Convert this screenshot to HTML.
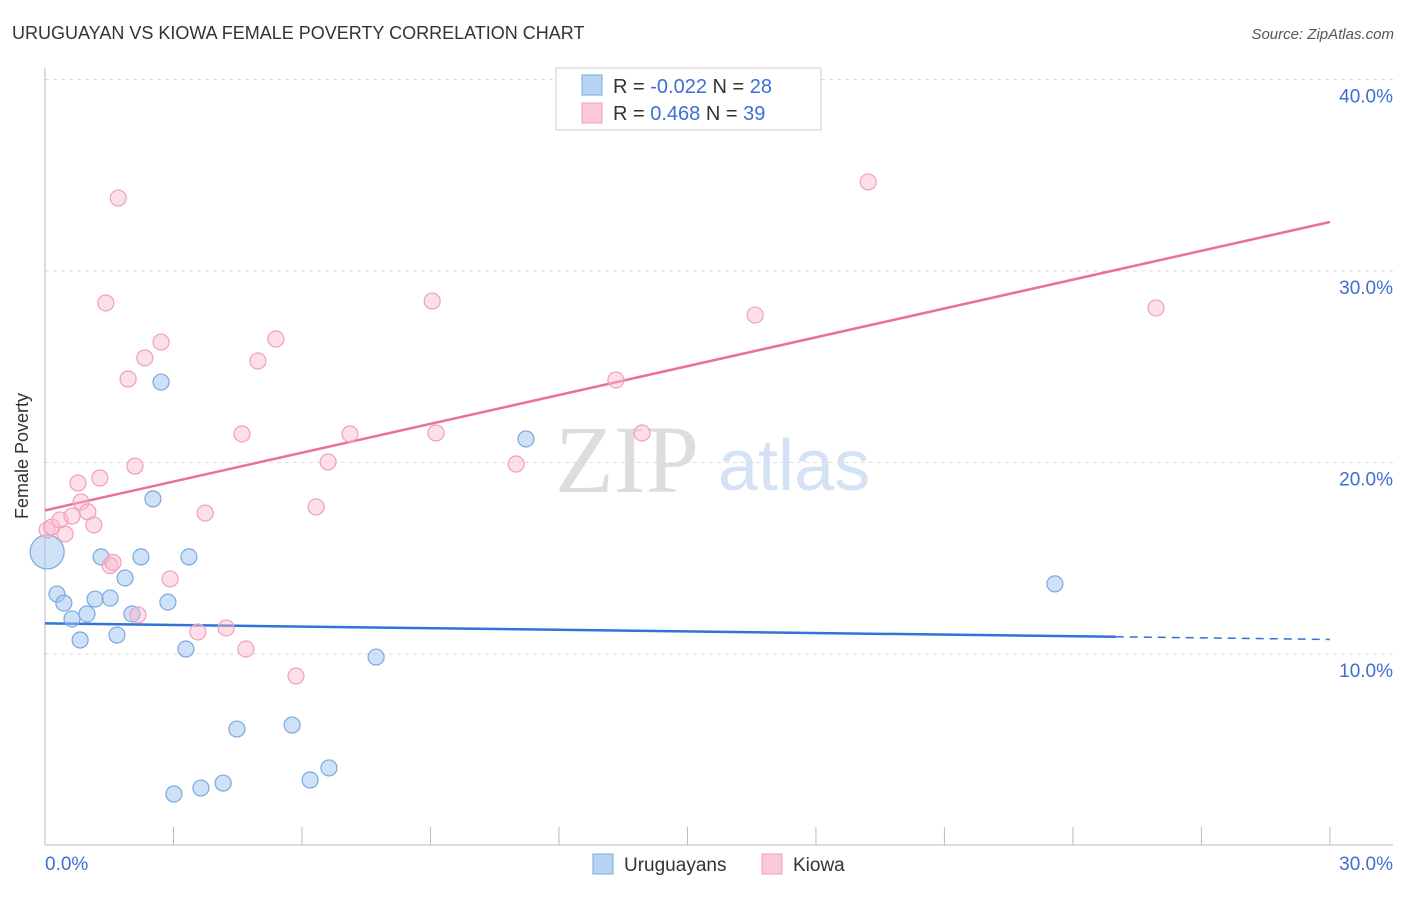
<!DOCTYPE html>
<html><head><meta charset="utf-8"><style>
body{margin:0;background:#fff;font-family:"Liberation Sans",sans-serif}
</style></head><body>
<svg id="chart" width="1406" height="892" xmlns="http://www.w3.org/2000/svg" font-family="Liberation Sans, sans-serif">
<text x="12" y="39" font-size="18" fill="#333">URUGUAYAN VS KIOWA FEMALE POVERTY CORRELATION CHART</text>
<text x="1394" y="39" font-size="15" font-style="italic" fill="#555" text-anchor="end">Source: ZipAtlas.com</text>
<text x="555" y="492" font-size="96" font-family="Liberation Serif, serif" fill="#ddd">ZIP</text>
<text x="718" y="490" font-size="72" fill="#d3e2f5">atlas</text>
<g id="grid"></g><g id="axes"></g><g id="lines"></g><g id="points"></g>
<text x="28" y="456" font-size="18" fill="#333" text-anchor="middle" transform="rotate(-90 28 456)">Female Poverty</text>
<g>
<rect x="556" y="68" width="265" height="62" fill="#fff" stroke="#ccc"/>
<rect x="582" y="75" width="20" height="20" fill="#b9d3f5" stroke="#7aa8e0"/>
<text x="613" y="93" font-size="20" fill="#333">R = <tspan fill="#3b6fd1">-0.022</tspan>   N = <tspan fill="#3b6fd1">28</tspan></text>
<rect x="582" y="103" width="20" height="20" fill="#fbc9d8" stroke="#f0a0b8"/>
<text x="613" y="120" font-size="20" fill="#333">R =  <tspan fill="#3b6fd1"> 0.468</tspan>   N = <tspan fill="#3b6fd1">39</tspan></text>
</g>
<g>
<rect x="593" y="854" width="20" height="20" fill="#b9d3f5" stroke="#7aa8e0"/>
<text x="624" y="871" font-size="19" fill="#333">Uruguayans</text>
<rect x="762" y="854" width="20" height="20" fill="#fbc9d8" stroke="#f0a0b8"/>
<text x="793" y="871" font-size="19" fill="#333">Kiowa</text>
</g>
</svg>
<script>
const blueX=[0.05,0.28,0.44,0.63,0.82,0.98,1.17,1.31,1.52,1.68,1.87,2.03,2.24,2.52,2.71,2.87,3.01,3.29,3.36,3.64,4.16,4.48,5.77,6.19,6.63,7.73,11.23,23.58];
const blueY=[15.33,13.13,12.66,11.83,10.73,12.09,12.87,15.07,12.92,10.99,13.97,12.09,15.07,18.10,24.20,12.71,2.69,10.26,15.07,3.00,3.26,6.08,6.29,3.42,4.05,9.84,21.23,13.66];
const pinkX=[0.05,0.16,0.35,0.47,0.63,0.77,0.84,1.0,1.14,1.28,1.42,1.52,1.59,1.71,1.94,2.10,2.17,2.33,2.71,2.92,3.57,3.74,4.23,4.60,4.69,4.97,5.39,5.86,6.33,6.61,7.12,9.04,9.13,11.0,13.33,13.94,16.58,19.22,25.94];
const pinkY=[16.48,16.63,17.0,16.27,17.2,18.93,17.94,17.42,16.74,19.19,28.33,14.62,14.78,33.81,24.36,19.81,12.04,25.46,26.29,13.92,11.15,17.36,11.36,21.49,10.26,25.30,26.45,8.85,17.68,20.03,21.49,28.43,21.54,19.92,24.31,21.54,27.70,34.65,28.07];
const blueTrend=[11.6,-0.028];
const pinkTrend=[17.5,0.502];
const yTicks=[10,20,30,40];
const yTickLabels=["10.0%","20.0%","30.0%","40.0%"];
const NS="http://www.w3.org/2000/svg";
const xs=v=>45+v*42.83, ys=v=>845.5-v*19.15;
function mk(p,t,a){const e=document.createElementNS(NS,t);for(const k in a)e.setAttribute(k,a[k]);document.getElementById(p).appendChild(e);return e;}
yTicks.forEach((t,i)=>{
 const g=mk('grid','line',{x1:45,x2:1393,y1:ys(t),y2:ys(t),stroke:'#ddd','stroke-dasharray':'4,4'});
 
 
 const l=mk('axes','text',{x:1393,y:ys(t)+23,'font-size':19,fill:'#3b6fd1','text-anchor':'end'});
 l.textContent=yTickLabels[i];
 
 
});
mk('axes','line',{x1:45,x2:45,y1:68,y2:845,stroke:'#bbb'});
mk('axes','line',{x1:45,x2:1393,y1:845,y2:845,stroke:'#bbb'});
for(let i=1;i<=10;i++){const x=xs(i*3);mk('axes','line',{x1:x,x2:x,y1:827,y2:845,stroke:'#bbb'});}
const x0=mk('axes','text',{x:45,y:870,'font-size':19,fill:'#3b6fd1'});x0.textContent='0.0%';


const x1=mk('axes','text',{x:1393,y:870,'font-size':19,fill:'#3b6fd1','text-anchor':'end'});x1.textContent='30.0%';


const bl=mk('lines','line',{x1:xs(0),y1:ys(blueTrend[0]),x2:xs(25),y2:ys(blueTrend[0]+25*blueTrend[1]),stroke:'#2f74d6','stroke-width':2.5});


const bd=mk('lines','line',{x1:xs(25),y1:ys(blueTrend[0]+25*blueTrend[1]),x2:xs(30),y2:ys(blueTrend[0]+30*blueTrend[1]),stroke:'#2f74d6','stroke-width':1.5,'stroke-dasharray':'8,6'});


const pl=mk('lines','line',{x1:xs(0),y1:ys(pinkTrend[0]),x2:xs(30),y2:ys(pinkTrend[0]+30*pinkTrend[1]),stroke:'#e8719a','stroke-width':2.5});


blueX.forEach((v,i)=>{
 const c=mk('points','circle',{cx:xs(v),cy:ys(blueY[i]),r:i===0?17:8,fill:'rgba(160,195,240,0.5)',stroke:'#7aa8e0','stroke-width':1.2});
 
 
});
pinkX.forEach((v,i)=>{
 const c=mk('points','circle',{cx:xs(v),cy:ys(pinkY[i]),r:8,fill:'rgba(248,185,205,0.45)',stroke:'#f0a0b8','stroke-width':1.2});
 
 
});
</script>
</body></html>
